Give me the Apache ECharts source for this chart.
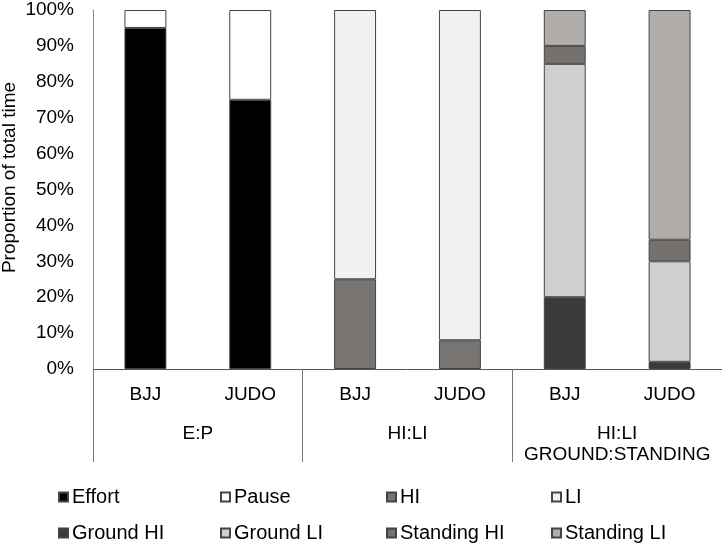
<!DOCTYPE html>
<html>
<head>
<meta charset="utf-8">
<script src="https://cdn.jsdelivr.net/npm/echarts@6/dist/echarts.min.js"></script>
<style>html,body{margin:0;padding:0;background:#fff}#c{width:722px;height:545px}</style>
</head>
<body>
<div id="c"></div>
<script>
var categories = ['BJJ', 'JUDO', 'BJJ', 'JUDO', 'BJJ', 'JUDO'];
var groups = ['E:P', 'HI:LI', 'HI:LI\nGROUND:STANDING'];
var yTicks = [0, 10, 20, 30, 40, 50, 60, 70, 80, 90, 100];
var seriesNames = ['Effort', 'Pause', 'HI', 'LI', 'Ground HI', 'Ground LI', 'Standing HI', 'Standing LI'];
var effort     = [95, 75, null, null, null, null];
var pause      = [5, 25, null, null, null, null];
var hi         = [null, null, 25, 8, null, null];
var li         = [null, null, 75, 92, null, null];
var groundHI   = [null, null, null, null, 20, 2];
var groundLI   = [null, null, null, null, 65, 28];
var standingHI = [null, null, null, null, 5, 6];
var standingLI = [null, null, null, null, 10, 64];

var values = [effort, pause, hi, li, groundHI, groundLI, standingHI, standingLI];
var colors = ['#000000', '#ffffff', '#777472', '#f1f1f1', '#3b3a38', '#d0cfcf', '#75716f', '#b0adab'];
var font = 'Liberation Sans, Arial, sans-serif';

var series = seriesNames.map(function (n, i) {
  return {
    name: n, type: 'bar', stack: 'total', data: values[i], barWidth: '40%',
    xAxisIndex: 0,
    itemStyle: { color: colors[i], borderColor: '#444', borderWidth: 1 }
  };
});

var legendX = [58, 220, 386, 551];
var legendY = [487, 523];
var legends = seriesNames.map(function (n, i) {
  return {
    data: [n], left: legendX[i % 4], top: legendY[Math.floor(i / 4)],
    icon: 'rect', itemWidth: 9, itemHeight: 9, itemGap: 0, padding: 0,
    selectedMode: false,
    textStyle: { fontFamily: font, fontSize: 20, color: '#000', padding: [0, 0, 0, -1] }
  };
});

var chart = echarts.init(document.getElementById('c'));
chart.setOption({
  animation: false,
  backgroundColor: '#fff',
  grid: { left: 93, right: 0, top: 10, bottom: 176, containLabel: false, outerBoundsMode: 'none' },
  legend: legends,
  xAxis: [{
    type: 'category', data: categories, position: 'bottom',
    axisLine: { show: true, lineStyle: { color: '#555', width: 1 } },
    axisTick: { show: false },
    axisLabel: { fontFamily: font, fontSize: 19, color: '#000', margin: 16, interval: 0 }
  }, {
    type: 'category', data: groups, position: 'bottom',
    axisLine: { show: false },
    axisTick: { show: true, length: 93, interval: 0, lineStyle: { color: '#777', width: 1 } },
    axisLabel: { fontFamily: font, fontSize: 19, color: '#000', margin: 54, interval: 0, lineHeight: 21 }
  }],
  yAxis: {
    type: 'value', min: 0, max: 100, interval: 10,
    name: 'Proportion of total time', nameLocation: 'middle', nameGap: 74,
    nameMoveOverlap: false,
    nameTextStyle: { fontFamily: font, fontSize: 19, color: '#000', padding: [0, 0, 0, 24] },
    axisLine: { show: true, lineStyle: { color: '#888', width: 1 } },
    axisTick: { show: false },
    splitLine: { show: false },
    axisLabel: { fontFamily: font, fontSize: 19, color: '#000', margin: 19, formatter: '{value}%',
      customValues: yTicks }
  },
  series: series
});
</script>
</body>
</html>
